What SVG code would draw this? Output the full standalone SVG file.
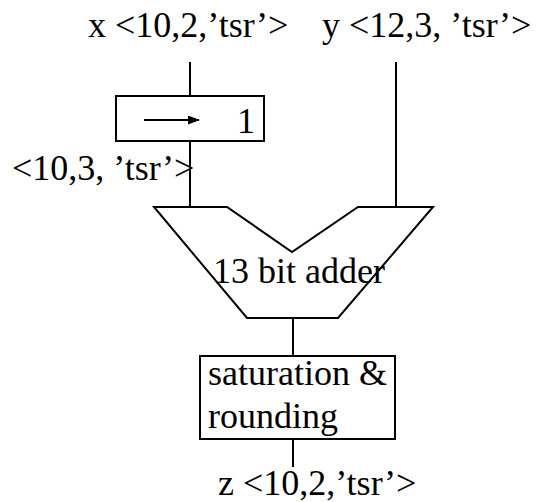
<svg xmlns="http://www.w3.org/2000/svg" width="540" height="502" viewBox="0 0 540 502" font-family="Liberation Serif, serif">
<style>
text{font-family:"Liberation Serif",serif;font-size:36px;fill:#000}
.s{fill:none;stroke:#000;stroke-width:2}
.b{fill:#fff;stroke:#000;stroke-width:2}
</style>
<defs>
<marker id="ah" markerWidth="12" markerHeight="10" refX="11" refY="4.5" orient="auto" markerUnits="userSpaceOnUse">
<path d="M0,0 L12,4.5 L0,9 z" fill="#000"/>
</marker>
</defs>
<rect width="540" height="502" fill="#fff"/>
<g id="connectors">
<line class="s" x1="190" y1="62" x2="190" y2="96"/>
<line class="s" x1="190" y1="141" x2="190" y2="207"/>
<line class="s" x1="396" y1="62" x2="396" y2="207"/>
<line class="s" x1="293" y1="318" x2="293" y2="356"/>
<line class="s" x1="293" y1="439" x2="293" y2="467"/>
</g>
<g id="label-x"><text x="88" y="37">x &lt;10,2,’tsr’&gt;</text></g>
<g id="label-y"><text x="322" y="37">y &lt;12,3, ’tsr’&gt;</text></g>
<g id="shift">
<rect class="b" x="116" y="96" width="148" height="45"/>
<line class="s" x1="144" y1="120" x2="199" y2="120" marker-end="url(#ah)"/>
<text x="237" y="133">1</text>
</g>
<g id="label-mid"><text x="12" y="180">&lt;10,3, ’tsr’&gt;</text></g>
<g id="adder">
<path class="s" d="M154,207 L227,207 L292,252 L358,207 L433,207 L338,318 L247,318 Z"/>
<text x="213" y="283">13 bit adder</text>
</g>
<g id="satround">
<rect class="b" x="200" y="356" width="195" height="83"/>
<text x="208" y="385">saturation &amp;</text>
<text x="208" y="428">rounding</text>
</g>
<g id="label-z"><text x="218" y="495">z &lt;10,2,’tsr’&gt;</text></g>
</svg>
